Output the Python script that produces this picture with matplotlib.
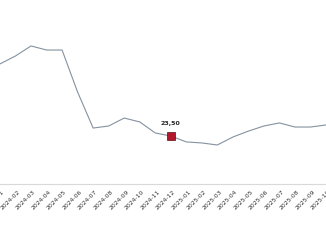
import matplotlib
matplotlib.use("Agg")
import matplotlib.pyplot as plt
import matplotlib.transforms as mtransforms

months = ["2024-01", "2024-02", "2024-03", "2024-04", "2024-05", "2024-06",
          "2024-07", "2024-08", "2024-09", "2024-10", "2024-11", "2024-12",
          "2025-01", "2025-02", "2025-03", "2025-04", "2025-05", "2025-06",
          "2025-07", "2025-08", "2025-09", "2025-10"]
values = [58.8, 62.7, 67.6, 65.6, 65.6, 45.0, 27.4, 28.4, 32.3, 30.4, 25.0,
          23.5, 20.6, 20.1, 19.1, 23.0, 25.9, 28.4, 29.9, 27.9, 27.9, 28.9]
highlight = "2024-12"
highlight_label = "23,50"

fig = plt.figure(figsize=(3.26, 2.45), dpi=100)
ax = fig.add_axes([0, 61 / 245, 1, 184 / 245])

x = list(range(len(months)))
ax.plot(x, values, color="#8592a0", lw=0.8)

hi = months.index(highlight)
ax.plot(hi, values[hi], marker="s", ms=5.5, color="#b3172b",
        markeredgecolor="#5a0c14", markeredgewidth=0.5)
ax.annotate(highlight_label, (hi, values[hi]), xytext=(0, 7),
            textcoords="offset points", ha="center", va="bottom",
            fontsize=4.5, fontweight="bold", color="#222222")

ax.set_xlim(1 - 6 / 16.3, 1 + 320 / 16.3)
ax.set_ylim(0, 90.1)
ax.set_xticks(x)
ax.set_xticklabels(months, rotation=45, ha="right", rotation_mode="anchor",
                   fontsize=4.4, color="#333333")
ax.tick_params(axis="x", length=0, pad=4)
# nudge tick labels a little to the right
shift = mtransforms.ScaledTranslation(2 / 100, 0, fig.dpi_scale_trans)
for lbl in ax.get_xticklabels():
    lbl.set_transform(lbl.get_transform() + shift)
ax.set_yticks([])
for side in ["top", "left", "right"]:
    ax.spines[side].set_visible(False)
ax.spines["bottom"].set_color("#d9d9d9")
ax.spines["bottom"].set_linewidth(0.8)

fig.savefig("out.png", dpi=100)
